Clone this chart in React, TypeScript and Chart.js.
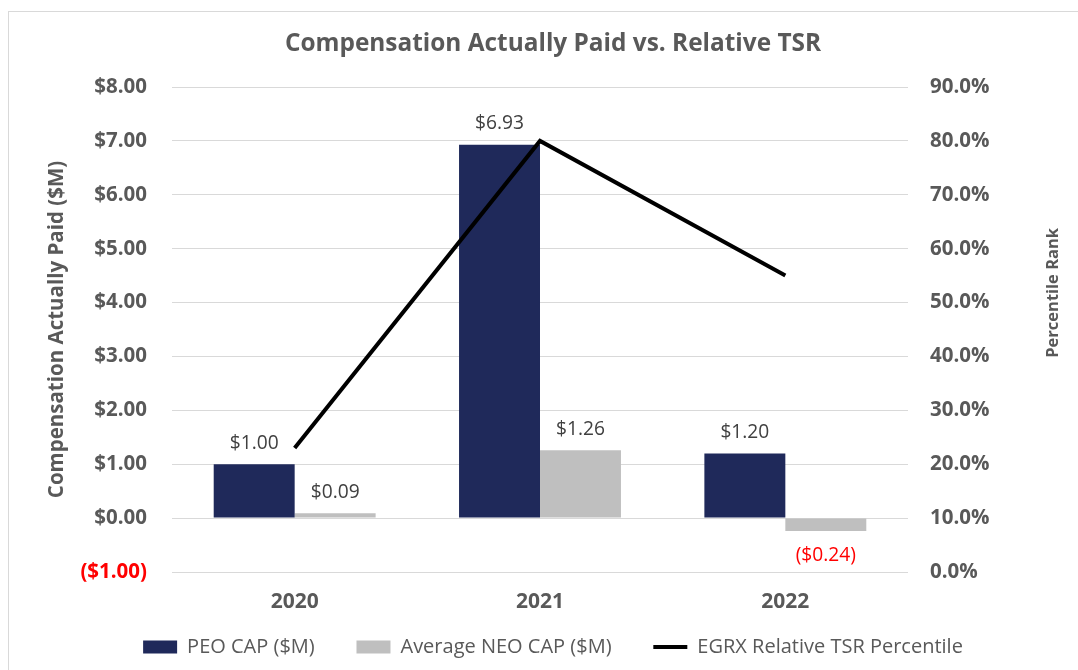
import React, { useEffect, useRef } from "react";
import { Chart, registerables } from "chart.js";

Chart.register(...registerables);

const categories = ["2020", "2021", "2022"];
const peoCap = [1.0, 6.93, 1.2];
const neoCap = [0.09, 1.26, -0.24];
const tsrPercentile = [23, 80, 55];

const seriesNames = ["PEO CAP ($M)", "Average NEO CAP ($M)", "EGRX Relative TSR Percentile"];
const chartTitle = "Compensation Actually Paid vs. Relative TSR";
const leftAxisTitle = "Compensation Actually Paid ($M)";
const rightAxisTitle = "Percentile Rank";

const FONT = "'Open Sans', 'Noto Sans', sans-serif";
const NAVY = "#1f295a";
const GRAY = "#bfbfbf";
const TEXT = "#595959";
const LABEL = "#404040";
const RED = "#ff0000";
const GRID = "#d9d9d9";
const LEGEND_GAP = "    ";

const money = (v: number) => (v < 0 ? `($${Math.abs(v).toFixed(2)})` : `$${v.toFixed(2)}`);

const framePlugin = {
  id: "frame",
  beforeDraw(chart: any) {
    const ctx = chart.ctx;
    ctx.save();
    ctx.fillStyle = "#ffffff";
    ctx.fillRect(0, 0, chart.width, chart.height);
    ctx.strokeStyle = GRID;
    ctx.lineWidth = 1;
    ctx.strokeRect(8.5, 11.5, chart.width + 40, chart.height + 40);
    ctx.restore();
  },
};

const barLabelPlugin = {
  id: "barLabels",
  afterDatasetsDraw(chart: any) {
    const ctx = chart.ctx;
    ctx.save();
    ctx.font = `19.2px ${FONT}`;
    ctx.textAlign = "center";
    ctx.textBaseline = "middle";
    chart.data.datasets.forEach((ds: any, i: number) => {
      if (ds.type !== "bar") return;
      const meta = chart.getDatasetMeta(i);
      meta.data.forEach((el: any, j: number) => {
        const v = ds.data[j] as number;
        const neg = v < 0;
        ctx.fillStyle = neg ? RED : LABEL;
        const y = neg ? el.y + 24 : el.y - 21;
        ctx.fillText(money(v), el.x, y);
      });
    });
    ctx.restore();
  },
};

// Right-axis title, drawn reading bottom-to-top like the left one
const rightTitlePlugin = {
  id: "rightTitle",
  afterDraw(chart: any) {
    const s = chart.scales.y1;
    if (!s) return;
    const ctx = chart.ctx;
    ctx.save();
    ctx.font = `bold 16.5px ${FONT}`;
    ctx.fillStyle = TEXT;
    ctx.textAlign = "center";
    ctx.textBaseline = "middle";
    ctx.translate(s.right - 25, s.getPixelForValue(51.8));
    ctx.rotate(-Math.PI / 2);
    ctx.fillText(rightAxisTitle, 0, 0);
    ctx.restore();
  },
};

export default function App() {
  const ref = useRef<HTMLCanvasElement | null>(null);

  useEffect(() => {
    if (!ref.current) return;
    const chart = new Chart(ref.current, {
      type: "bar",
      data: {
        labels: categories,
        datasets: [
          {
            type: "bar",
            label: seriesNames[0],
            data: peoCap,
            backgroundColor: NAVY,
            yAxisID: "y",
            order: 1,
            categoryPercentage: 0.66,
            barPercentage: 1,
          } as any,
          {
            type: "bar",
            label: seriesNames[1],
            data: neoCap,
            backgroundColor: GRAY,
            yAxisID: "y",
            order: 1,
            categoryPercentage: 0.66,
            barPercentage: 1,
          } as any,
          {
            type: "line",
            label: seriesNames[2],
            data: tsrPercentile,
            borderColor: "#000000",
            backgroundColor: "#000000",
            borderWidth: 4,
            pointRadius: 0,
            yAxisID: "y1",
            order: 0,
            tension: 0,
          } as any,
        ],
      },
      options: {
        animation: false,
        responsive: true,
        maintainAspectRatio: false,
        layout: { padding: { left: 28, right: 0, top: 0, bottom: 3 } },
        plugins: {
          title: {
            display: true,
            text: chartTitle,
            color: TEXT,
            font: { family: FONT, size: 24.4, weight: "bold" },
            padding: { top: 29.36, bottom: 28.36 },
          },
          legend: {
            position: "bottom",
            labels: {
              color: TEXT,
              font: { family: FONT, size: 20 },
              usePointStyle: true,
              pointStyleWidth: 34,
              boxHeight: 13,
              padding: 21,
              generateLabels: (c: any) =>
                c.data.datasets.map((ds: any, i: number) => ({
                  text: ds.type === "line" ? ds.label : ds.label + LEGEND_GAP,
                  fillStyle: ds.type === "line" ? "#000000" : ds.backgroundColor,
                  strokeStyle: ds.type === "line" ? "#000000" : ds.backgroundColor,
                  lineWidth: ds.type === "line" ? 4 : 0,
                  pointStyle: ds.type === "line" ? "line" : "rect",
                  fontColor: TEXT,
                  hidden: false,
                  datasetIndex: i,
                })),
            },
          },
          tooltip: { enabled: false },
        },
        scales: {
          x: {
            grid: { display: false, drawTicks: false },
            border: { display: false },
            ticks: { color: TEXT, font: { family: FONT, size: 21, weight: "bold" }, padding: 17.4 },
            afterFit: (s: any) => {
              s.height = 44;
            },
          },
          y: {
            position: "left",
            min: -1,
            max: 8,
            grid: { color: GRID, lineWidth: 1, drawTicks: false },
            border: { display: false },
            ticks: {
              stepSize: 1,
              padding: 25,
              font: { family: FONT, size: 20.5, weight: "bold" },
              color: (ctx: any) => (ctx.tick && ctx.tick.value < 0 ? RED : TEXT),
              callback: (v: any) => money(Number(v)),
            },
            title: {
              display: true,
              text: leftAxisTitle,
              color: TEXT,
              font: { family: FONT, size: 20.5, weight: "bold" },
              padding: { top: 17.2, bottom: 0 },
            },
            afterFit: (s: any) => {
              s.width = 144;
            },
          },
          y1: {
            position: "right",
            min: 0,
            max: 90,
            grid: { display: false, drawTicks: false },
            border: { display: false },
            ticks: {
              stepSize: 10,
              padding: 22,
              color: TEXT,
              font: { family: FONT, size: 20.5, weight: "bold" },
              callback: (v: any) => `${Number(v).toFixed(1)}%`,
            },
            title: { display: false, text: rightAxisTitle },
            afterFit: (s: any) => {
              s.width = 170;
            },
          },
        },
      } as any,
      plugins: [framePlugin, barLabelPlugin, rightTitlePlugin],
    });
    return () => chart.destroy();
  }, []);

  return (
    <div style={{ position: "absolute", left: 0, top: 0, width: 1078, height: 670 }}>
      <canvas ref={ref} />
    </div>
  );
}
